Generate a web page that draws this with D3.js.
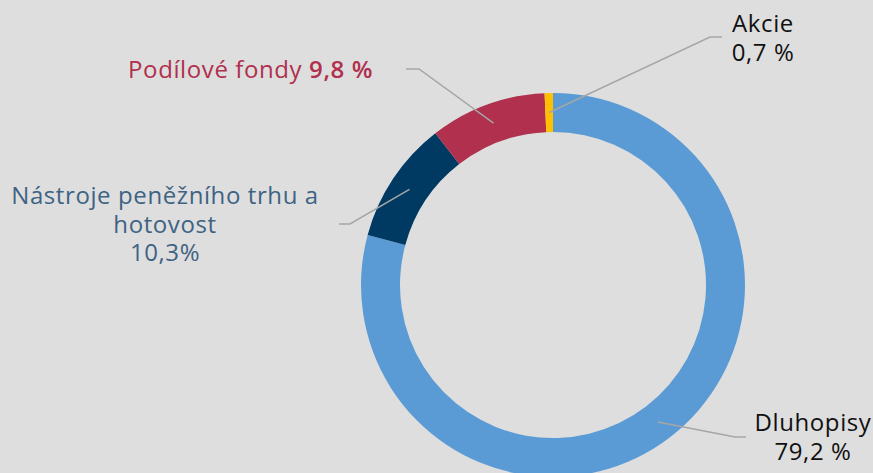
<!DOCTYPE html>
<html>
<head>
<meta charset="utf-8">
<script src="https://cdn.jsdelivr.net/npm/d3@7"></script>
<style>
  body { margin: 0; background: #dedede; }
  svg { display: block; }
  text { font-family: "Open Sans", sans-serif; font-size: 24px; letter-spacing: 0.6px; }
</style>
</head>
<body>
<div id="chart"></div>
<script>
// data
var categories = ["Dluhopisy", "Nástroje peněžního trhu a hotovost", "Podílové fondy", "Akcie"];
var shares = [79.2, 10.3, 9.8, 0.7];
var shareLabels = ["79,2 %", "10,3%", "9,8 %", "0,7 %"];
var colors = ["#5b9bd5", "#003a63", "#b0304d", "#ffc000"];

const
	W = 873, H = 473,
	CX = 553, CY = 285,
	R_OUT = 192, R_IN = 153;

var svg = d3.select("#chart").append("svg")
	.attr("width", W)
	.attr("height", H);

svg.append("rect").attr("width", W).attr("height", H).attr("fill", "#dedede");

var pie = d3.pie().sort(null).value(function(d) { return d; });
var arc = d3.arc().innerRadius(R_IN).outerRadius(R_OUT);
var mid = d3.arc().innerRadius((R_IN + R_OUT) / 2).outerRadius((R_IN + R_OUT) / 2);

var g = svg.append("g").attr("transform", "translate(" + CX + "," + CY + ")");
var arcs = pie(shares);

g.selectAll("path.slice")
	.data(arcs)
	.enter()
	.append("path")
	.attr("class", "slice")
	.attr("d", arc)
	.attr("fill", function(d, i) { return colors[i]; });

// label layout: elbow + end of leader line (in page coords), text anchor
var layout = [
	{ elbow: [735, 437], end: [746, 437], tx: 813, ty: 431, anchor: "middle", fill: "#111" },
	{ elbow: [350, 224], end: [339, 224], tx: 165, ty: 204, anchor: "middle", fill: "#3e6383" },
	{ elbow: [419, 69], end: [406, 69], tx: 373, ty: 78, anchor: "end", fill: "#b0304d" },
	{ elbow: [710, 37], end: [722, 37], tx: 763, ty: 32, anchor: "middle", fill: "#111" }
];

arcs.forEach(function(d, i) {
	var c = mid.centroid(d), L = layout[i];
	svg.append("polyline")
		.attr("points", [[c[0] + CX, c[1] + CY], L.elbow, L.end].map(function(p) { return p.join(","); }).join(" "))
		.attr("fill", "none")
		.attr("stroke", "#a6a6a6")
		.attr("stroke-width", 1.5);
});

var LH = 28.5;
function lines(i, rows) {
	var L = layout[i];
	var t = svg.append("text")
		.attr("x", L.tx).attr("y", L.ty)
		.attr("text-anchor", L.anchor)
		.attr("fill", L.fill);
	rows.forEach(function(r, k) {
		t.append("tspan").attr("x", L.tx).attr("dy", k == 0 ? 0 : LH).text(r);
	});
	return t;
}

lines(0, [categories[0], shareLabels[0]]);
lines(1, ["Nástroje peněžního trhu a", "hotovost", shareLabels[1]]);
var pf = lines(2, []);
pf.append("tspan").text(categories[2] + " ");
pf.append("tspan").attr("font-weight", 600).text(shareLabels[2]);
lines(3, [categories[3], shareLabels[3]]);
</script>
</body>
</html>
